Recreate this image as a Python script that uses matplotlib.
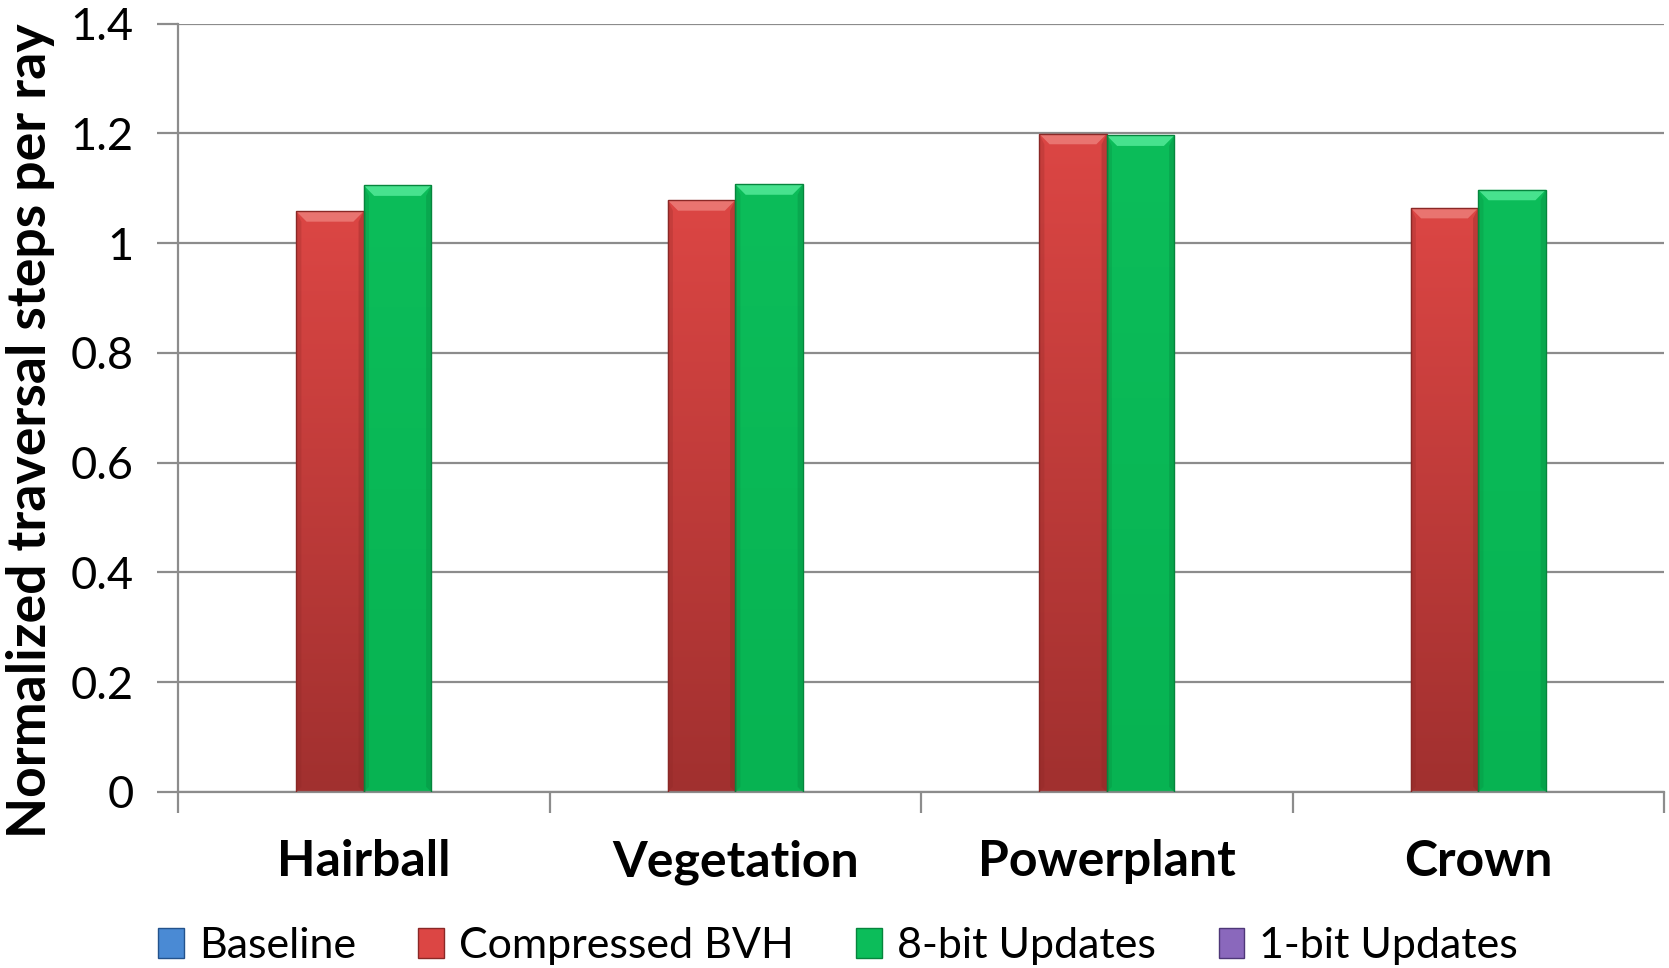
import numpy as np
import matplotlib.pyplot as plt
import matplotlib.patches as patches
from matplotlib.colors import LinearSegmentedColormap

plt.rcParams['font.family'] = ['Lato', 'DejaVu Sans']

# scenes on the x axis, one group of bars per scene
scenes = ["Hairball", "Vegetation", "Powerplant", "Crown"]
series = ["Baseline", "Compressed BVH", "8-bit Updates", "1-bit Updates"]

# normalized traversal steps per ray (baseline / 1-bit were not plotted)
baseline = [np.nan, np.nan, np.nan, np.nan]
compressed_bvh = [1.058, 1.078, 1.199, 1.064]
updates_8bit = [1.105, 1.107, 1.196, 1.097]
updates_1bit = [np.nan, np.nan, np.nan, np.nan]

yticks = [0, 0.2, 0.4, 0.6, 0.8, 1, 1.2, 1.4]
ytick_labels = ["0", "0.2", "0.4", "0.6", "0.8", "1", "1.2", "1.4"]

# (top colour, bottom colour, bevel highlight, edge)
styles = {
    "Baseline": ("#4a8ad4", "#2c64a8", "#8cbcf0", "#23528c"),
    "Compressed BVH": ("#dc4644", "#a1302f", "#ee8480", "#8a2826"),
    "8-bit Updates": ("#0cbd5a", "#07b352", "#5cf0a0", "#06853d"),
    "1-bit Updates": ("#8a68bc", "#634594", "#b9a0e0", "#4e3778"),
}

GRID = "#8c8c8c"


def bevel_bar(ax, x0, w, h, style, bx, by):
    top, bottom, hi, edge = style
    cmap = LinearSegmentedColormap.from_list("g", [bottom, top])
    rect = patches.Rectangle((x0, 0), w, h, facecolor="none", edgecolor="none")
    ax.add_patch(rect)
    grad = np.linspace(0, 1, 256).reshape(-1, 1)
    im = ax.imshow(grad, cmap=cmap, origin="lower", aspect="auto",
                   extent=(x0, x0 + w, 0, h), zorder=2, interpolation="bicubic")
    im.set_clip_path(rect)
    # top bevel highlight
    ax.add_patch(patches.Polygon([(x0, h), (x0 + w, h), (x0 + w - bx, h - by),
                                  (x0 + bx, h - by)], closed=True,
                                 facecolor=hi, edgecolor="none", alpha=0.75, zorder=3))
    # darker side strips
    ax.add_patch(patches.Polygon([(x0 + w, h), (x0 + w, 0), (x0 + w - bx * 0.5, by * 0.5),
                                  (x0 + w - bx * 0.5, h - by)], closed=True,
                                 facecolor=edge, edgecolor="none", alpha=0.35, zorder=3))
    ax.add_patch(patches.Polygon([(x0, h), (x0, 0), (x0 + bx * 0.5, by * 0.5),
                                  (x0 + bx * 0.5, h - by)], closed=True,
                                 facecolor=edge, edgecolor="none", alpha=0.25, zorder=3))
    ax.add_patch(patches.Rectangle((x0, 0), w, h, facecolor="none",
                                   edgecolor=edge, linewidth=1.0, zorder=4))


fig = plt.figure(figsize=(16.69, 9.68), dpi=100)
ax = fig.add_axes([178 / 1669, 1 - 792 / 968, 1486 / 1669, 768.5 / 968])

ax.set_xlim(0, len(scenes))
ax.set_ylim(0, 1.4)

bar_w = 1 / 5.5
values = [baseline, compressed_bvh, updates_8bit, updates_1bit]
for s, (name, vals) in enumerate(zip(series, values)):
    for i, v in enumerate(vals):
        if np.isnan(v):
            continue
        x0 = i + 0.5 + (s - 2) * bar_w
        bevel_bar(ax, x0, bar_w, v, styles[name], 0.028, 0.019)

ax.set_yticks(yticks)
ax.set_yticklabels(ytick_labels)
ax.yaxis.grid(True, color=GRID, linewidth=1.6)
ax.set_axisbelow(True)

ax.set_xticks(np.arange(len(scenes) + 1))
ax.set_xticklabels([])
ax.set_xticks(np.arange(len(scenes)) + 0.5, minor=True)
ax.set_xticklabels(scenes, minor=True, fontsize=36, fontweight="bold")
ax.tick_params(axis="x", which="major", length=15, width=1.6, color=GRID, direction="out")
ax.tick_params(axis="x", which="minor", length=0, pad=34)
ax.tick_params(axis="y", length=15, width=1.6, color=GRID, pad=17, labelsize=32.5)

for side in ("top", "right"):
    ax.spines[side].set_visible(False)
for side in ("left", "bottom"):
    ax.spines[side].set_color(GRID)
    ax.spines[side].set_linewidth(1.6)

fig.text(31 / 1669, 1 - 431 / 968, "Normalized traversal steps per ray",
         rotation=90, ha="center", va="center", fontsize=38.5, fontweight="bold")

handles = [patches.Patch(facecolor=styles[n][0], edgecolor=styles[n][3], linewidth=1.0)
           for n in series]
fig.legend(handles, series, loc="center", bbox_to_anchor=(838 / 1669, 1 - 946 / 968),
           ncol=4, frameon=False, fontsize=31, handlelength=0.6, handleheight=0.68,
           handletextpad=0.35, columnspacing=1.45, borderpad=0)

fig.savefig("out.png", dpi=100)
